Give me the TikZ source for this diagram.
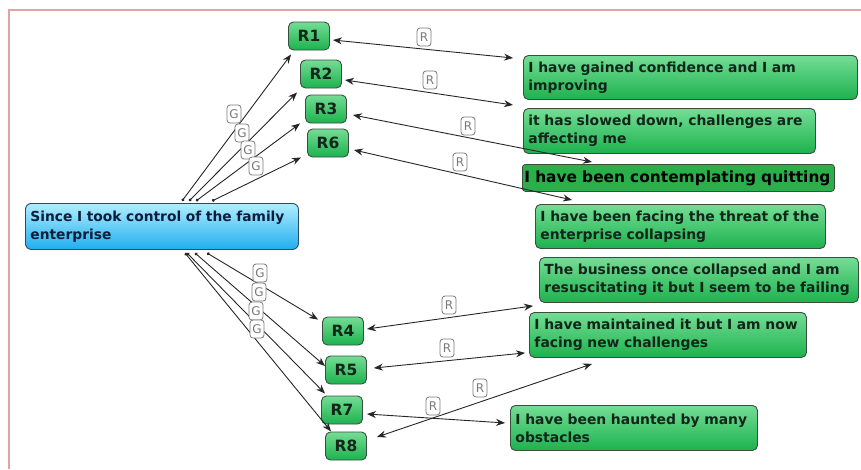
\documentclass[tikz,border=0pt]{standalone}
\usepackage{fontspec}
\setmainfont{DejaVu Sans}
\usetikzlibrary{arrows.meta,calc}
\definecolor{gtop}{HTML}{74DD95}
\definecolor{gbot}{HTML}{1DB24E}
\definecolor{gedge}{HTML}{3A4E40}
\definecolor{btop}{HTML}{B0EEFF}
\definecolor{bbot}{HTML}{20AEEE}
\definecolor{bedge}{HTML}{2C4A66}
\definecolor{txtg}{HTML}{10261A}
\definecolor{txtb}{HTML}{0A1E3C}
\definecolor{frame}{HTML}{E0A4A4}
\definecolor{labgray}{HTML}{7A7A7A}
\definecolor{quitg}{HTML}{2AAF4A}
\tikzset{
  ans/.style={draw=gedge, line width=0.9pt, rounded corners=5pt, top color=gtop, bottom color=gbot,
    font=\bfseries\fontsize{13.9}{18}\selectfont, text=txtg, align=left, anchor=north west,
    inner xsep=5pt, inner ysep=3pt},
  rnode/.style={draw=gedge, line width=0.9pt, rounded corners=5pt, top color=gtop, bottom color=gbot,
    font=\bfseries\fontsize{15.5}{17}\selectfont, text=txtg, minimum width=41, minimum height=28, inner sep=0pt},
  lab/.style={draw=labgray, line width=0.8pt, rounded corners=3pt, fill=white, text=labgray,
    font=\fontsize{12}{13}\selectfont, minimum width=14, minimum height=18, inner sep=0pt},
  arr/.style={draw=black!85, line width=0.9pt, -{Stealth[length=9pt,width=7pt]}},
  garr/.style={arr, {Circle[length=3pt]}-{Stealth[length=9pt,width=7pt]}},
  rarr/.style={draw=black!85, line width=0.9pt, {Stealth[length=9pt,width=7pt]}-{Stealth[length=9pt,width=7pt]}},
}
\begin{document}
\begin{tikzpicture}[x=1pt,y=-1pt]
\useasboundingbox (0,0) rectangle (861,469);
\draw[frame, line width=1.2pt] (9,469) -- (9,10) -- (861,10);

% root
\node[draw=bedge, line width=0.9pt, rounded corners=6pt, top color=btop, bottom color=bbot,
  font=\bfseries\fontsize{13.8}{18}\selectfont, text=txtb, align=left, anchor=north west,
  text width=263, minimum height=46, inner xsep=5pt] (root) at (25,203)
  {Since I took control of the family\\enterprise};

% R nodes
\node[rnode] (r1) at (309,36) {R1};
\node[rnode] (r2) at (321,74) {R2};
\node[rnode] (r3) at (326,109) {R3};
\node[rnode] (r6) at (328,143) {R6};
\node[rnode] (r4) at (343,331) {R4};
\node[rnode] (r5) at (346,370) {R5};
\node[rnode] (r7) at (342,410) {R7};
\node[rnode] (r8) at (346,446) {R8};

% answer nodes
\node[ans, text width=324, minimum height=44] (a1) at (523,55) {I have gained confidence and I am\\improving};
\node[ans, text width=282, minimum height=45] (a2) at (523,108) {it has slowed down, challenges are\\affecting me};
\node[draw=gedge, line width=0.8pt, rounded corners=3pt, fill=quitg, anchor=north west,
  font=\fontsize{15.4}{17}\selectfont\bfseries, text=black, text width=308, minimum height=27,
  inner xsep=2pt, inner ysep=0pt, align=left]
  (a3) at (522,164) {\mbox{I have been contemplating quitting}};
\node[ans, text width=280, minimum height=44] (a4) at (535,204) {I have been facing the threat of the\\enterprise collapsing};
\node[ans, text width=309, minimum height=45] (a5) at (539,257) {The business once collapsed and I am\\resuscitating it but I seem to be failing};
\node[ans, text width=267, minimum height=45] (a6) at (529,312) {I have maintained it but I am now\\facing new challenges};
\node[ans, text width=237, minimum height=45] (a7) at (510,405) {I have been haunted by many\\obstacles};

% G edges (top)
\coordinate (s1) at (182,201);
\coordinate (s2) at (189,201);
\coordinate (s3) at (196,201);
\coordinate (s4) at (212,201);
\draw[garr] (s1) -- ([shift={(3,4)}]r1.south west);
\draw[garr] (s2) -- ([shift={(-3,4)}]r2.south west);
\draw[garr] (s3) -- ([shift={(-5,0)}]r3.south west);
\draw[garr] (s4) -- ([shift={(-6,0)}]r6.south west);
% G edges (bottom)
\coordinate (b1) at (185,253);
\coordinate (b2) at (187,253);
\coordinate (b3) at (195,253);
\coordinate (b4) at (207,253);
\draw[garr] (b4) -- ([shift={(-4,3)}]r4.north west);
\draw[garr] (b3) -- ([shift={(0,-4)}]r5.west);
\draw[garr] (b2) -- ([shift={(4,-2)}]r7.north west);
\draw[garr] (b1) -- ([shift={(10,7)}]r7.south west);

\node[lab] (g1) at (234,114) {G};
\node[lab] (g2) at (242,133) {G};
\node[lab] (g3) at (248,150) {G};
\node[lab] (g4) at (256,166) {G};
\node[lab] (g5) at (260,273) {G};
\node[lab] (g6) at (259,292) {G};
\node[lab] (g7) at (256,311) {G};
\node[lab] (g8) at (257,329) {G};

% R edges
\draw[rarr] ([shift={(3,4)}]r1.east) -- ([shift={(-10,3)}]a1.north west);
\draw[rarr] ([shift={(3,6)}]r2.east) -- ([shift={(-10,-3)}]a2.north west);
\draw[rarr] ([shift={(6,6)}]r3.east) -- ([shift={(70,-2)}]a3.north west);
\draw[rarr] ([shift={(5,7)}]r6.east) -- ([shift={(37,-4)}]a4.north west);
\draw[rarr] ([shift={(3,-2)}]r4.east) -- ([shift={(-6,3)}]a5.south west);
\draw[rarr] ([shift={(7,-2)}]r5.east) -- ([shift={(-4,-5)}]a6.south west);
\draw[rarr] ([shift={(4,4)}]r7.east) -- ([shift={(-5,-5)}]a7.west);
\draw[rarr] ([shift={(10,-9)}]r8.east) -- ([shift={(63,6)}]a6.south west);

\node[lab] (l1) at (424,37) {R};
\node[lab] (l2) at (430,80) {R};
\node[lab] (l3) at (468,126) {R};
\node[lab] (l4) at (460,162) {R};
\node[lab] (l5) at (449,305) {R};
\node[lab] (l6) at (447,348) {R};
\node[lab] (l7) at (433,406) {R};
\node[lab] (l8) at (480,388) {R};
\end{tikzpicture}
\end{document}
